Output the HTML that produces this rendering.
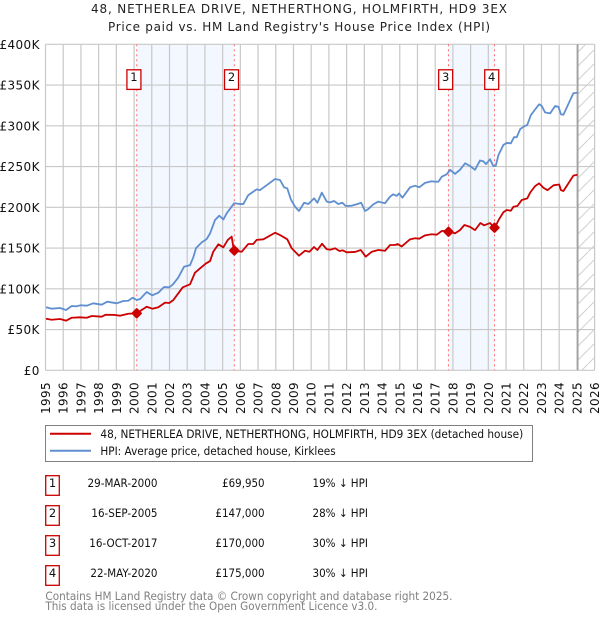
<!DOCTYPE html>
<html lang="en">
<head>
<meta charset="utf-8">
<title>48, Netherlea Drive price chart</title>
<style>
html,body{margin:0;padding:0;background:#fff;}
body{width:600px;height:620px;overflow:hidden;}
svg{display:block;}
text{font-family:"DejaVu Sans","Liberation Sans",sans-serif;}
</style>
</head>
<body>
<svg id="chart" xmlns="http://www.w3.org/2000/svg" width="600" height="620" viewBox="0 0 600 620">
  <defs>
    <pattern id="hatch" patternUnits="userSpaceOnUse" width="14" height="14">
      <path d="M-1 15 L15 -1" stroke="#d0d0d0" stroke-width="1" fill="none"/>
    </pattern>
  </defs>
  <text x="299" y="13" font-size="12" text-anchor="middle" fill="#222" textLength="416" lengthAdjust="spacing">48, NETHERLEA DRIVE, NETHERTHONG, HOLMFIRTH, HD9 3EX</text>
  <text x="299" y="31" font-size="12" text-anchor="middle" fill="#222" textLength="382" lengthAdjust="spacing">Price paid vs. HM Land Registry's House Price Index (HPI)</text>
  <g id="bands"></g>
  <g id="grid"></g>
  <g id="future"></g>
  <g id="series"></g>
  <g id="sales"></g>
  <g id="ticks"></g>

  <g>
    <rect x="45.5" y="425.5" width="487" height="36" fill="#fff" stroke="#808080" stroke-width="1"/>
    <line x1="50" x2="91" y1="433.7" y2="433.7" stroke="#cc0000" stroke-width="2"/>
    <text x="100.4" y="438" font-size="11.5" fill="#111" textLength="422.8" lengthAdjust="spacingAndGlyphs">48, NETHERLEA DRIVE, NETHERTHONG, HOLMFIRTH, HD9 3EX (detached house)</text>
    <line x1="50" x2="91" y1="450.7" y2="450.7" stroke="#5f8fd0" stroke-width="2"/>
    <text x="100.4" y="455" font-size="11.5" fill="#111" textLength="235.3" lengthAdjust="spacingAndGlyphs">HPI: Average price, detached house, Kirklees</text>
  </g>

  <g font-size="11.5" fill="#111">
    <g>
      <rect x="45.7" y="475.7" width="13.6" height="19.6" fill="#fff" stroke="#cc0000" stroke-width="1.3"/>
      <text x="52.5" y="487" text-anchor="middle">1</text>
      <text x="87.5" y="487" textLength="70" lengthAdjust="spacingAndGlyphs">29-MAR-2000</text>
      <text x="222.1" y="487" textLength="42.5" lengthAdjust="spacingAndGlyphs">£69,950</text>
      <text x="312.5" y="487" textLength="55.4" lengthAdjust="spacingAndGlyphs">19% ↓ HPI</text>
    </g>
    <g>
      <rect x="45.7" y="505.7" width="13.6" height="19.6" fill="#fff" stroke="#cc0000" stroke-width="1.3"/>
      <text x="52.5" y="517" text-anchor="middle">2</text>
      <text x="91.4" y="517" textLength="66.1" lengthAdjust="spacingAndGlyphs">16-SEP-2005</text>
      <text x="215.4" y="517" textLength="49.2" lengthAdjust="spacingAndGlyphs">£147,000</text>
      <text x="312.5" y="517" textLength="55.4" lengthAdjust="spacingAndGlyphs">28% ↓ HPI</text>
    </g>
    <g>
      <rect x="45.7" y="535.7" width="13.6" height="19.6" fill="#fff" stroke="#cc0000" stroke-width="1.3"/>
      <text x="52.5" y="547" text-anchor="middle">3</text>
      <text x="89.3" y="547" textLength="68.2" lengthAdjust="spacingAndGlyphs">16-OCT-2017</text>
      <text x="215.4" y="547" textLength="49.2" lengthAdjust="spacingAndGlyphs">£170,000</text>
      <text x="312.5" y="547" textLength="55.4" lengthAdjust="spacingAndGlyphs">30% ↓ HPI</text>
    </g>
    <g>
      <rect x="45.7" y="565.7" width="13.6" height="19.6" fill="#fff" stroke="#cc0000" stroke-width="1.3"/>
      <text x="52.5" y="577" text-anchor="middle">4</text>
      <text x="90.4" y="577" textLength="67.1" lengthAdjust="spacingAndGlyphs">22-MAY-2020</text>
      <text x="215.4" y="577" textLength="49.2" lengthAdjust="spacingAndGlyphs">£175,000</text>
      <text x="312.5" y="577" textLength="55.4" lengthAdjust="spacingAndGlyphs">30% ↓ HPI</text>
    </g>
  </g>

  <text x="45.4" y="600" font-size="11.5" fill="#808080" textLength="407.1" lengthAdjust="spacingAndGlyphs">Contains HM Land Registry data © Crown copyright and database right 2025.</text>
  <text x="45.4" y="610" font-size="11.5" fill="#808080" textLength="332.1" lengthAdjust="spacingAndGlyphs">This data is licensed under the Open Government Licence v3.0.</text>
</svg>

<script>
const xTickYears = [1995,1996,1997,1998,1999,2000,2001,2002,2003,2004,2005,2006,2007,2008,2009,2010,2011,2012,2013,2014,2015,2016,2017,2018,2019,2020,2021,2022,2023,2024,2025,2026];
const yTickValues = [0,50,100,150,200,250,300,350,400];
const yTickLabels = ['£0','£50K','£100K','£150K','£200K','£250K','£300K','£350K','£400K'];

const hpiYears = [1995.03,1995.35,1995.82,1996.16,1996.48,1996.72,1996.99,1997.33,1997.7,1998.17,1998.49,1999.02,1999.39,1999.67,1999.92,2000.15,2000.34,2000.71,2001.03,2001.37,2001.69,2001.99,2002.2,2002.5,2002.82,2003.16,2003.35,2003.5,2003.82,2004.1,2004.29,2004.57,2004.81,2005.04,2005.23,2005.65,2005.98,2006.17,2006.45,2006.92,2007.1,2007.48,2007.96,2008.24,2008.47,2008.65,2008.85,2009.09,2009.31,2009.6,2009.84,2010.16,2010.35,2010.6,2010.88,2011.06,2011.29,2011.53,2011.76,2011.95,2012.29,2012.57,2012.82,2013.04,2013.23,2013.51,2013.79,2014.17,2014.45,2014.63,2014.83,2014.96,2015.15,2015.58,2015.86,2016.1,2016.43,2016.8,2016.99,2017.18,2017.37,2017.65,2017.84,2018.12,2018.4,2018.69,2018.97,2019.25,2019.53,2019.72,2019.87,2020.1,2020.28,2020.42,2020.57,2020.85,2021.04,2021.27,2021.45,2021.6,2021.8,2022.08,2022.2,2022.4,2022.64,2022.87,2023.02,2023.2,2023.49,2023.77,2023.96,2024.1,2024.24,2024.52,2024.8,2025.03];
const hpiValues = [77.3,75.6,76.4,74,78.9,78.5,79.8,79.3,82.2,80.5,84.2,82.2,85,85.4,89,86.3,87.5,96,92,95.2,102.2,101.8,105.5,114,127,129,139,150,157,161,168,184.4,189.7,185,192.6,205,204,204,215,222,221,227,234.7,233.5,224.5,223.3,209.8,200.7,195.5,205.6,204,211,205.6,218,207,206,207.7,204,205.6,201.6,202,203.7,205.6,195.5,198,203.7,207,205,213,216,214,217,211.8,224.5,226.5,224.5,230,232,231.4,231.4,237.5,240.5,246,241,246,254,250.7,246,257.5,256.5,253,259,250.7,251,264,276.5,279,278.5,286,286,296,300,301,313,320,326.4,324.3,316.5,315.3,324.3,323.4,314,313.6,326.7,339.9,340.6];

const pricePaidYears = [1995.03,1995.35,1995.82,1996.16,1996.48,1996.95,1997.33,1997.61,1998.17,1998.4,1998.92,1999.2,1999.67,2000.15,2000.71,2001.03,2001.37,2001.75,2001.99,2002.22,2002.75,2003.16,2003.44,2003.72,2004.05,2004.29,2004.47,2004.76,2005.04,2005.29,2005.51,2005.6,2005.66,2006.08,2006.45,2006.73,2006.92,2007.3,2007.96,2008.24,2008.65,2008.9,2009.31,2009.65,2009.9,2010.16,2010.35,2010.61,2010.88,2011.1,2011.35,2011.59,2011.78,2012.0,2012.48,2012.8,2013.08,2013.42,2013.79,2014.17,2014.45,2014.73,2014.88,2015.11,2015.58,2015.86,2016.1,2016.43,2016.8,2017.09,2017.37,2017.75,2018.12,2018.4,2018.65,2018.97,2019.25,2019.55,2019.76,2020.1,2020.28,2020.38,2020.57,2020.85,2021.04,2021.27,2021.42,2021.64,2021.89,2022.2,2022.36,2022.64,2022.87,2023.11,2023.34,2023.68,2024.0,2024.1,2024.24,2024.52,2024.8,2025.03];
const pricePaidValues = [63.3,62,63,60.9,64.5,65,64.5,66.6,65.8,68.2,67.9,67,69.4,70,78,75.6,77.3,83,82.6,86.3,101.8,105.5,119.8,125,131,134,145.5,154.6,150.9,160,164,151.7,146.7,145.5,155,155,160,160.7,168.8,166,160.7,149.7,140.6,146.7,145.5,151.3,147.6,155.3,148.5,148,149.7,146.4,147.2,144.8,145.2,147.6,139.4,145.5,147.6,146.7,153.7,153.7,155,152,160.7,162,161.5,165.6,166.9,166.4,170.9,171,168,172,178.3,176,172,180.7,177.9,180.7,176,175.5,184,193.9,196.7,195.8,200.7,201.6,209,211,218,226,229.4,224,221,227,228,221,220,229.4,238.8,240];

const saleNumbers = ['1','2','3','4'];
const saleYears = [2000.15,2005.66,2017.75,2020.35];
const salePrices = [69.95,147,170,175];
const dataEndYear = 2025.05;

const PLOT = {left:45.5,right:594.6,top:44.3,bottom:370.3};
const xMin = 1995, xMax = 2026, yMax = 400;
const NS = 'http://www.w3.org/2000/svg';

function xScale(year){ return PLOT.left + (year - xMin) / (xMax - xMin) * (PLOT.right - PLOT.left); }
function yScale(value){ return PLOT.bottom - value / yMax * (PLOT.bottom - PLOT.top); }
function make(parent, tag, attrs){
  const el = document.createElementNS(NS, tag);
  for (const k in attrs) el.setAttribute(k, attrs[k]);
  parent.appendChild(el);
  return el;
}
function linePath(xs, ys){
  return xs.map((y,i)=>(i?'L':'M')+xScale(y).toFixed(2)+' '+yScale(ys[i]).toFixed(2)).join(' ');
}

const bandsG = document.getElementById('bands');
const gridG = document.getElementById('grid');
const futureG = document.getElementById('future');
const seriesG = document.getElementById('series');
const salesG = document.getElementById('sales');
const ticksG = document.getElementById('ticks');

/* shaded bands between sale pairs */
[[0,1],[2,3]].forEach(function(pair){
  const band = make(bandsG,'rect',{x:xScale(saleYears[pair[0]]),y:PLOT.top,width:xScale(saleYears[pair[1]])-xScale(saleYears[pair[0]]),height:PLOT.bottom-PLOT.top,fill:'#f3f7ff'});
  
  
});

/* grid + tick labels */
xTickYears.forEach(function(year){
  const x = xScale(year);
  const g = make(gridG,'line',{x1:x,x2:x,y1:PLOT.top,y2:PLOT.bottom,stroke:'#c8c8c8','stroke-width':1.2});
  
  
  const t = make(ticksG,'text',{transform:'translate('+(x+4.5)+',414) rotate(-90)','font-size':12,'letter-spacing':0.37,fill:'#111'});
  
  
  t.textContent = year;
});
yTickValues.forEach(function(value,i){
  const y = yScale(value);
  const g = make(gridG,'line',{x1:PLOT.left,x2:PLOT.right,y1:y,y2:y,stroke:'#c8c8c8','stroke-width':1.2});
  
  
  const t = make(ticksG,'text',{x:39.8,y:y+4.5,'text-anchor':'end','font-size':12,'letter-spacing':0.37,fill:'#111'});
  
  
  t.textContent = yTickLabels[i];
});

/* hatched no-data area */
const hatchRect = make(futureG,'rect',{x:xScale(dataEndYear),y:PLOT.top,width:PLOT.right-xScale(dataEndYear),height:PLOT.bottom-PLOT.top,fill:'url(#hatch)'});


const endLine = make(futureG,'line',{x1:xScale(dataEndYear),x2:xScale(dataEndYear),y1:PLOT.top,y2:PLOT.bottom,stroke:'#a0a0a0','stroke-width':1.5});



/* sale dotted lines go under the series */
saleYears.forEach(function(year){
  const x = xScale(year);
  const l = make(seriesG,'line',{x1:x,x2:x,y1:PLOT.top,y2:PLOT.bottom,stroke:'#ff7070','stroke-width':1,'stroke-dasharray':'2 3'});
  
  
});

/* series */
const hpiLine = make(seriesG,'path',{d:linePath(hpiYears,hpiValues),fill:'none',stroke:'#5f8fd0','stroke-width':1.8,'stroke-linejoin':'round'});


const priceLine = make(seriesG,'path',{d:linePath(pricePaidYears,pricePaidValues),fill:'none',stroke:'#cc0000','stroke-width':1.8,'stroke-linejoin':'round'});



/* sale markers + number boxes */
saleYears.forEach(function(year,i){
  const x = xScale(year), y = yScale(salePrices[i]);
  const m = make(salesG,'path',{d:'M'+x+' '+(y-4.2)+' L'+(x+4.2)+' '+y+' L'+x+' '+(y+4.2)+' L'+(x-4.2)+' '+y+' Z',fill:'#cc0000',stroke:'#cc0000','stroke-width':2,'stroke-linejoin':'round'});
  
  
  const b = make(salesG,'rect',{x:x-9.8,y:69.8,width:14,height:19.6,fill:'#fff',stroke:'#cc0000','stroke-width':1.3});
  
  
  const t = make(salesG,'text',{x:x-2.8,y:81,'text-anchor':'middle','font-size':11.5,fill:'#111'});
  
  
  t.textContent = saleNumbers[i];
});
</script>
</body>
</html>
